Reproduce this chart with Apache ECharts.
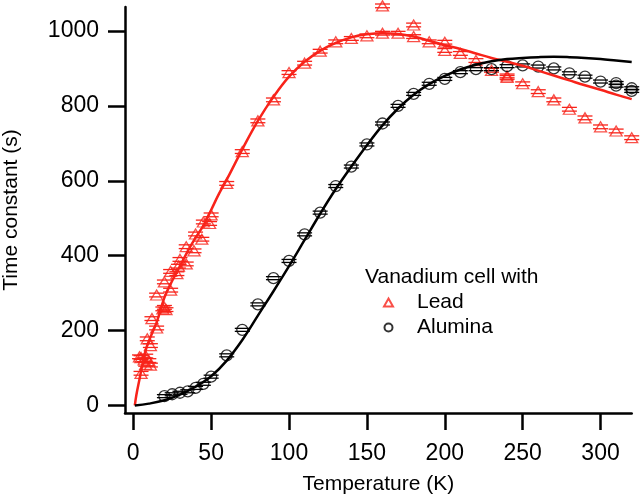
<!DOCTYPE html>
<html>
<head>
<meta charset="utf-8">
<title>Time constant vs temperature</title>
<script src="https://cdn.jsdelivr.net/npm/echarts@6/dist/echarts.min.js"></script>
<style>
  html, body { margin: 0; padding: 0; background: #fff; }
  #chart { width: 640px; height: 501px; }
</style>
</head>
<body>
<div id="chart"></div>
<script>
// measured time constants, [T (K), tau (s)]
const leadPoints = [
  [4, 130], [5, 86], [5, 128], [7, 122], [8, 132], [8, 110], [10, 120], [11, 108],
  [9, 178], [11, 160], [12, 232], [15, 207], [15, 295], [19, 258], [20, 262], [21, 256],
  [20, 330], [24, 308], [24, 358], [28, 352], [29, 372], [30, 390], [34, 378], [34, 424],
  [39, 413], [40, 458], [44, 444], [45, 490], [49, 486], [50, 509], [60, 593], [70, 678],
  [80, 760], [90, 816], [100, 889], [110, 914], [120, 946], [130, 971], [140, 980], [150, 987],
  [160, 1067], [160, 994], [170, 994], [180, 1016], [180, 985], [190, 971], [200, 970], [200, 948],
  [210, 940], [220, 921], [230, 895], [240, 880], [240, 876], [250, 859], [260, 838], [270, 816],
  [280, 791], [290, 768], [300, 744], [310, 733], [320, 715]
]
const aluminaPoints = [
  [20, 25], [25, 30], [30, 34], [35, 38], [40, 47], [45, 58], [50, 77], [60, 134],
  [70, 202], [80, 270], [90, 340], [100, 386], [110, 457], [120, 515], [130, 586], [140, 638],
  [150, 697], [160, 753], [170, 800], [180, 832], [190, 859], [200, 872], [210, 890], [220, 898],
  [230, 898], [240, 906], [250, 908], [260, 905], [270, 900], [280, 887], [290, 878], [300, 865],
  [310, 861], [310, 854], [320, 847], [320, 840]
]

// model curves
const leadFit = [
  [1, 0], [2, 28], [4, 70], [6, 112], [8, 148], [10, 172], [15, 222], [20, 288], [25, 333],
  [30, 372], [35, 412], [40, 448], [45, 480], [50, 522], [55, 565], [60, 603], [70, 684],
  [80, 760], [90, 824], [100, 878], [110, 918], [120, 947], [130, 968], [140, 983], [150, 991],
  [160, 994], [170, 992], [180, 985], [190, 974], [200, 962], [210, 952], [220, 940], [230, 928],
  [240, 918], [250, 907], [260, 894], [270, 881], [280, 868], [290, 855], [300, 843], [310, 830],
  [320, 818]
]
const aluminaFit = [
  [1, 0], [10, 5], [20, 14], [30, 29], [40, 50], [50, 78], [60, 120], [70, 175], [80, 240],
  [90, 305], [100, 372], [110, 442], [120, 512], [130, 578], [140, 638], [150, 695], [160, 748],
  [170, 793], [180, 830], [190, 858], [200, 880], [210, 897], [220, 910], [230, 919], [240, 925],
  [250, 928], [260, 930], [270, 931], [280, 930], [290, 928], [300, 925], [310, 921], [320, 917]
]

// error bars (s)
const leadErr = 5
const aluminaErr = 4

const xTicks = [0, 50, 100, 150, 200, 250, 300]
const yTicks = [0, 200, 400, 600, 800, 1000]

const RED = '#f8231a'
const BLACK = '#000'
const FONT = 'Liberation Sans, Arial, sans-serif'

// two short caps per point
const capSeries = (points, err, color) => ({
  type: 'custom',
  silent: true,
  clip: false,
  data: points,
  encode: {x: 0, y: 1},
  renderItem: (params, api) => {
    const x = api.value(0)
    const y = api.value(1)
    const top = api.coord([x, y + err])
    const bot = api.coord([x, y - err])
    const hw = 7.5
    const style = {stroke: color, lineWidth: 1.3}
    return {
      type: 'group',
      children: [
        {type: 'line', shape: {x1: top[0] - hw, y1: top[1], x2: top[0] + hw, y2: top[1]}, style},
        {type: 'line', shape: {x1: bot[0] - hw, y1: bot[1], x2: bot[0] + hw, y2: bot[1]}, style}
      ]
    }
  }
})

const chart = echarts.init(document.getElementById('chart'))

const option = {
  animation: false,
  textStyle: {fontFamily: FONT},
  grid: {left: 125, right: 8.3, top: 7, bottom: 88, outerBoundsMode: 'none', containLabel: false},
  xAxis: {
    type: 'value',
    min: -5.3,
    max: 320,
    name: 'Temperature (K)',
    nameLocation: 'middle',
    nameGap: 61,
    nameTextStyle: {fontSize: 21, color: BLACK, fontFamily: FONT},
    axisLine: {onZero: false, lineStyle: {color: BLACK, width: 2.5}},
    axisTick: {length: 17, lineStyle: {color: BLACK, width: 2.5}, customValues: xTicks},
    axisLabel: {fontSize: 23, color: BLACK, margin: 29, fontFamily: FONT, customValues: xTicks,
      formatter: v => String(v)},
    splitLine: {show: false}
  },
  yAxis: {
    type: 'value',
    min: -20,
    max: 1064,
    name: 'Time constant (s)',
    nameLocation: 'middle',
    nameGap: 103,
    nameTextStyle: {fontSize: 21, color: BLACK, fontFamily: FONT},
    axisLine: {onZero: false, lineStyle: {color: BLACK, width: 2.5}},
    axisTick: {length: 17, lineStyle: {color: BLACK, width: 2.5}, customValues: yTicks},
    axisLabel: {fontSize: 23, color: BLACK, margin: 26, fontFamily: FONT, customValues: yTicks,
      formatter: v => String(v)},
    splitLine: {show: false}
  },
  legend: {
    orient: 'vertical',
    left: 383,
    top: 292,
    padding: 0,
    itemGap: 4,
    itemWidth: 9,
    itemHeight: 8,
    data: ['Lead', 'Alumina'],
    textStyle: {fontSize: 21, color: BLACK, fontFamily: FONT, padding: [0, 0, 0, 19]}
  },
  graphic: [{
    type: 'text',
    left: 365,
    top: 267,
    style: {text: 'Vanadium cell with', fontSize: 21, fill: BLACK, fontFamily: FONT}
  }],
  series: [
    {
      name: 'Lead fit',
      type: 'line',
      data: leadFit,
      smooth: 0.4,
      showSymbol: false,
      silent: true,
      lineStyle: {color: RED, width: 2.5}
    },
    {
      name: 'Alumina fit',
      type: 'line',
      data: aluminaFit,
      smooth: 0.4,
      showSymbol: false,
      silent: true,
      lineStyle: {color: BLACK, width: 2.5}
    },
    capSeries(leadPoints, leadErr, RED),
    capSeries(aluminaPoints, aluminaErr, BLACK),
    {
      name: 'Lead',
      type: 'scatter',
      data: leadPoints,
      clip: false,
      symbol: 'triangle',
      symbolSize: [12, 10],
      itemStyle: {color: 'transparent', borderColor: RED, borderWidth: 1.3}
    },
    {
      name: 'Alumina',
      type: 'scatter',
      data: aluminaPoints,
      clip: false,
      symbol: 'circle',
      symbolSize: 11,
      itemStyle: {color: 'transparent', borderColor: BLACK, borderWidth: 1.3}
    }
  ]
}

chart.setOption(option)

window.addEventListener('resize', () => {
  chart.resize()
})
</script>
</body>
</html>
